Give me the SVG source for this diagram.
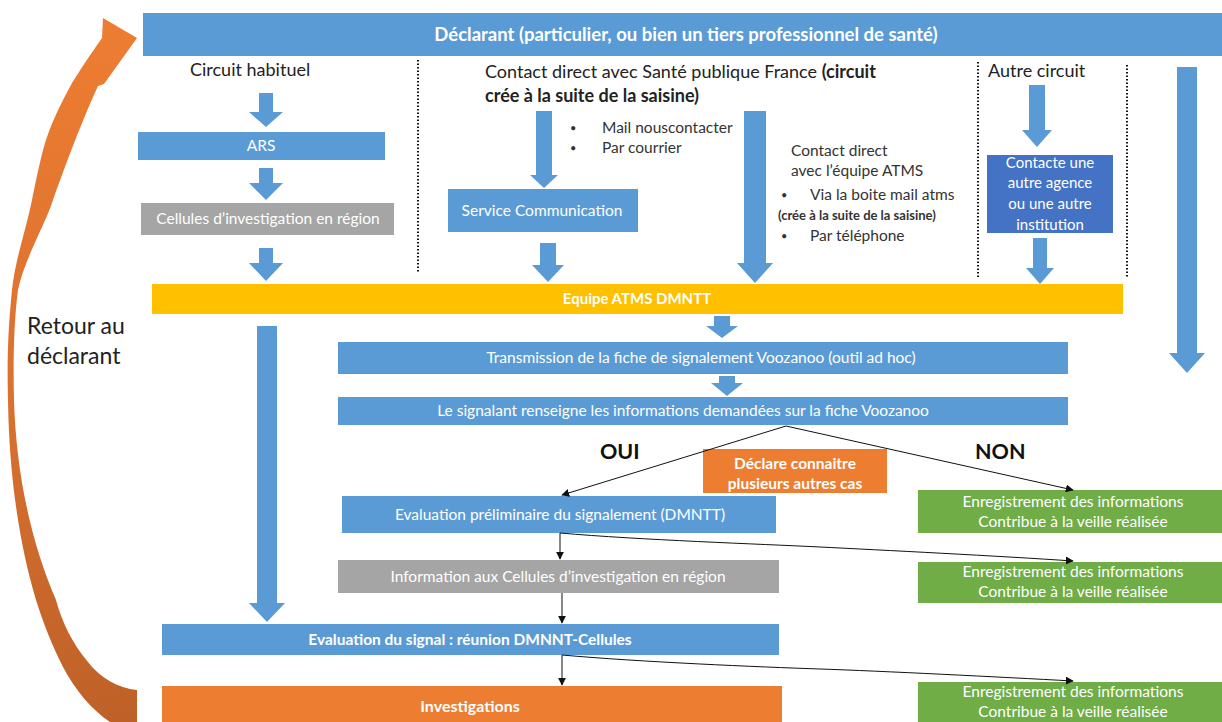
<svg xmlns="http://www.w3.org/2000/svg" width="1222" height="722" viewBox="0 0 1222 722">
  <defs>
    <linearGradient id="retourGrad" x1="0" y1="0" x2="0" y2="1">
      <stop offset="0" stop-color="#ED7D31"/>
      <stop offset="0.5" stop-color="#DC7230"/>
      <stop offset="1" stop-color="#BE6128"/>
    </linearGradient>
    <marker id="tip" viewBox="0 0 10 10" refX="9" refY="5" markerWidth="8" markerHeight="8" markerUnits="userSpaceOnUse" orient="auto">
      <path d="M0 0 L10 5 L0 10 Z" fill="#111"/>
    </marker>
    <style>
      text { font-family: Lato, "Open Sans", "Liberation Sans", sans-serif; }
      .box-blue { fill: #5B9BD5; }
      .box-dark { fill: #4472C4; }
      .box-gray { fill: #A5A5A5; }
      .box-yellow { fill: #FFC000; }
      .box-green { fill: #70AD47; }
      .box-orange { fill: #ED7D31; }
      .in { fill: #ffffff; font-size: 15.5px; text-anchor: middle; }
      .inb { fill: #ffffff; font-size: 15.5px; font-weight: bold; text-anchor: middle; }
      .lbl { fill: #222222; font-size: 18px; }
      .small { fill: #333333; font-size: 15.5px; }
      .big { fill: #111111; font-size: 21.5px; font-weight: bold; }
      .blk { fill: #5B9BD5; }
      .dots { stroke: #111111; stroke-width: 2; stroke-dasharray: 1.5 2; fill: none; }
      .conn { stroke: #111111; stroke-width: 1; fill: none; marker-end: url(#tip); }
    </style>
  </defs>

  <rect width="1222" height="722" fill="#ffffff"/>

  <!-- return path to the reporter -->
  <g id="retour">
    <path fill="url(#retourGrad)" d="M137 722 V690 C118 688 100 678 88 662 C72 643 62 622 56 600 C30 540 16 470 14 400 C13 360 14 320 18 290 C24 260 45 225 53 200 C62 175 80 125 98 86 L104 84 L137 38 L103 18 L102 38 C90 55 80 70 72 83 C60 105 50 125 43 150 C38 170 35 185 32 200 C26 230 15 260 12 290 C8 330 7 360 8 400 C9 470 18 540 36 600 C44 625 52 645 63 667 C75 690 92 710 110 722 Z"/>
    <text class="lbl" x="27" y="334" style="font-size:23px">Retour au</text>
    <text class="lbl" x="27" y="364" style="font-size:23px">déclarant</text>
  </g>

  <!-- reporter -->
  <g id="declarant">
    <rect class="box-blue" x="143" y="13" width="1079" height="43"/>
    <text class="inb" x="686" y="41" style="font-size:18.5px">Déclarant (particulier, ou bien un tiers professionnel de santé)</text>
  </g>

  <!-- column separators -->
  <g id="separateurs">
    <line class="dots" x1="418" y1="60" x2="418" y2="272"/>
    <line class="dots" x1="978" y1="62" x2="978" y2="277"/>
    <line class="dots" x1="1127" y1="65" x2="1127" y2="278"/>
  </g>

  <!-- column headings -->
  <g id="entetes">
    <text class="lbl" x="190" y="76">Circuit habituel</text>
    <text class="lbl" x="485" y="78">Contact direct avec Santé publique France <tspan font-weight="bold">(circuit</tspan></text>
    <text class="lbl" x="485" y="102" font-weight="bold">crée à la suite de la saisine)</text>
    <text class="lbl" x="988" y="77">Autre circuit</text>
  </g>

  <g id="canaux-courrier">
    <text class="small" x="570" y="132" style="font-size:11px">•</text>
    <text class="small" x="602" y="133">Mail nouscontacter</text>
    <text class="small" x="570" y="152" style="font-size:11px">•</text>
    <text class="small" x="602" y="153">Par courrier</text>
  </g>

  <g id="canaux-atms">
    <text class="small" x="791" y="156">Contact direct</text>
    <text class="small" x="791" y="176">avec l’équipe ATMS</text>
    <text class="small" x="781" y="199" style="font-size:11px">•</text>
    <text class="small" x="810" y="200">Via la boite mail atms</text>
    <text class="small" x="778" y="220" style="font-size:13px;font-weight:bold">(crée à la suite de la saisine)</text>
    <text class="small" x="781" y="240" style="font-size:11px">•</text>
    <text class="small" x="810" y="241">Par téléphone</text>
  </g>

  <!-- nodes -->
  <g id="ars">
    <rect class="box-blue" x="138" y="132" width="247" height="28"/>
    <text class="in" x="261" y="151">ARS</text>
  </g>
  <g id="cellules">
    <rect class="box-gray" x="141" y="203" width="253" height="32"/>
    <text class="in" x="268" y="224">Cellules d’investigation en région</text>
  </g>
  <g id="service-communication">
    <rect class="box-blue" x="448" y="189" width="190" height="43"/>
    <text class="in" x="542" y="216">Service Communication</text>
  </g>
  <g id="autre-agence">
    <rect class="box-dark" x="987" y="155" width="126" height="78"/>
    <text class="in" x="1050" y="168" style="font-size:15px">Contacte une</text>
    <text class="in" x="1050" y="188" style="font-size:15px">autre agence</text>
    <text class="in" x="1050" y="209" style="font-size:15px">ou une autre</text>
    <text class="in" x="1050" y="230" style="font-size:15px">institution</text>
  </g>
  <g id="equipe-atms">
    <rect class="box-yellow" x="152" y="284" width="971" height="30"/>
    <text class="inb" x="637" y="304" style="font-size:15px">Equipe ATMS DMNTT</text>
  </g>
  <g id="transmission">
    <rect class="box-blue" x="338" y="342" width="730" height="32"/>
    <text class="in" x="701" y="363">Transmission de la fiche de signalement Voozanoo  (outil ad hoc)</text>
  </g>
  <g id="signalant">
    <rect class="box-blue" x="338" y="397" width="730" height="28"/>
    <text class="in" x="683" y="416">Le signalant renseigne les informations demandées sur la fiche Voozanoo</text>
  </g>
  <g id="choix">
    <text class="big" x="600" y="459">OUI</text>
    <text class="big" x="975" y="459">NON</text>
  </g>
  <g id="autres-cas">
    <rect class="box-orange" x="703" y="449" width="184" height="44"/>
    <text class="inb" x="795" y="469" style="font-size:15.5px">Déclare connaitre</text>
    <text class="inb" x="795" y="489" style="font-size:15.5px">plusieurs autres cas</text>
  </g>
  <g id="evaluation-preliminaire">
    <rect class="box-blue" x="342" y="496" width="434" height="37"/>
    <text class="in" x="560" y="520">Evaluation préliminaire du signalement (DMNTT)</text>
  </g>
  <g id="information-cellules">
    <rect class="box-gray" x="338" y="560" width="441" height="33"/>
    <text class="in" x="558" y="582">Information  aux Cellules d’investigation en région</text>
  </g>
  <g id="evaluation-signal">
    <rect class="box-blue" x="162" y="624" width="617" height="31"/>
    <text class="inb" x="470" y="645">Evaluation du signal : réunion DMNNT-Cellules</text>
  </g>
  <g id="investigations">
    <rect class="box-orange" x="162" y="686" width="620" height="40"/>
    <text class="inb" x="470" y="712" style="font-size:16px">Investigations</text>
  </g>
  <g id="enregistrement-1">
    <rect class="box-green" x="918" y="490" width="304" height="43"/>
    <text class="in" x="1073" y="507">Enregistrement des informations</text>
    <text class="in" x="1073" y="527">Contribue à la veille réalisée</text>
  </g>
  <g id="enregistrement-2">
    <rect class="box-green" x="918" y="562" width="304" height="41"/>
    <text class="in" x="1073" y="577">Enregistrement des informations</text>
    <text class="in" x="1073" y="597">Contribue à la veille réalisée</text>
  </g>
  <g id="enregistrement-3">
    <rect class="box-green" x="918" y="682" width="304" height="44"/>
    <text class="in" x="1073" y="697">Enregistrement des informations</text>
    <text class="in" x="1073" y="717">Contribue à la veille réalisée</text>
  </g>

  <!-- connectors -->
  <g id="connecteurs">
    <!-- block arrows -->
    <path class="blk" d="M259 93 H273 V112 H283 L266 127 L249 112 H259 Z"/>
    <path class="blk" d="M259 168 H273 V183 H283 L266 200 L249 183 H259 Z"/>
    <path class="blk" d="M259 248 H273 V263 H283 L266 281 L249 263 H259 Z"/>
    <path class="blk" d="M536 111 H552 V175 H558 L544 188 L530 175 H536 Z"/>
    <path class="blk" d="M540 243 H556 V265 H564 L548 282 L532 265 H540 Z"/>
    <path class="blk" d="M744 111 H766 V263 H773 L755 283 L737 263 H744 Z"/>
    <path class="blk" d="M1029 85 H1045 V130 H1052 L1037 147 L1022 130 H1029 Z"/>
    <path class="blk" d="M1033 238 H1047 V268 H1054 L1040 284 L1026 268 H1033 Z"/>
    <path class="blk" d="M1177 67 H1197 V353 H1205 L1187 373 L1169 353 H1177 Z"/>
    <path class="blk" d="M714 316 H730 V326 H738 L722 338 L706 326 H714 Z"/>
    <path class="blk" d="M719 376 H735 V383 H743 L727 396 L711 383 H719 Z"/>
    <path class="blk" d="M257 326 H277 V603 H285 L267 622 L249 603 H257 Z"/>

    <!-- thin connectors -->
    <path class="conn" d="M786 426 L562 495"/>
    <path class="conn" d="M786 426 L1073 490"/>
    <path class="conn" d="M560 533 V559"/>
    <path class="conn" d="M560 533 C640 540 760 544 820 547 S1000 556 1073 561"/>
    <path class="conn" d="M562 593 V623"/>
    <path class="conn" d="M562 655 C640 662 760 667 820 669 S1000 677 1073 681"/>
    <path class="conn" d="M562 655 V685"/>
  </g>
</svg>
